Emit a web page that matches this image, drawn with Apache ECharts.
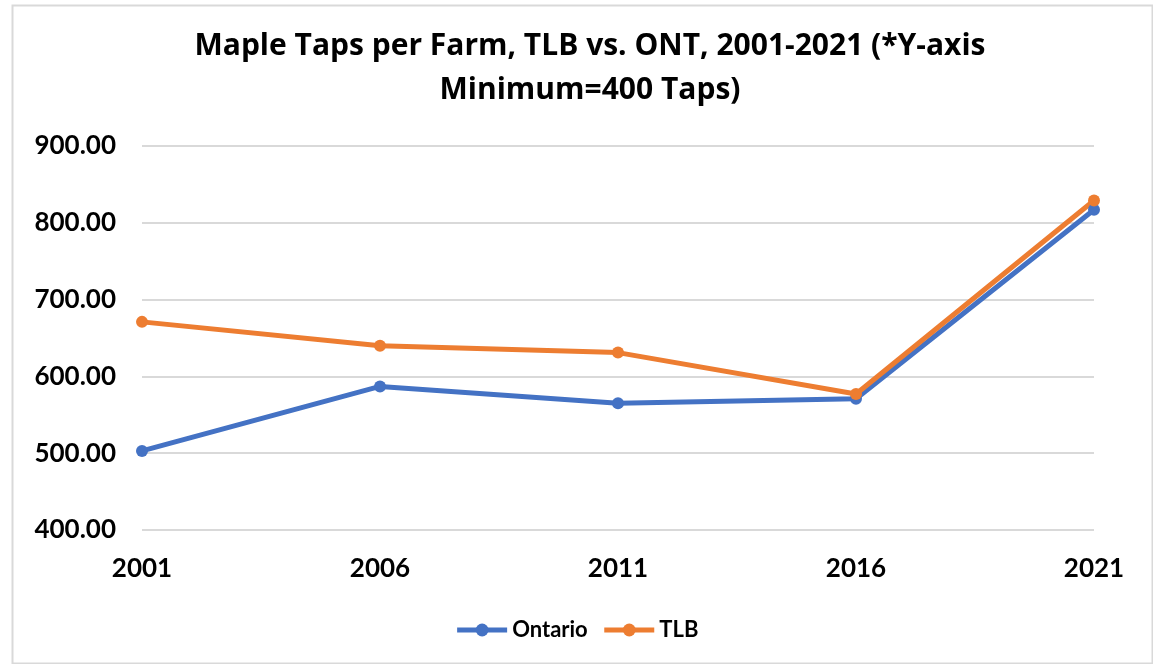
<!DOCTYPE html>
<html>
<head>
<meta charset="utf-8">
<script src="https://cdn.jsdelivr.net/npm/echarts@6/dist/echarts.min.js"></script>
<style>html,body{margin:0;padding:0;background:#fff}#c{width:1153px;height:664px}</style>
</head>
<body>
<div id="c"></div>
<script>
const categories = ['2001', '2006', '2011', '2016', '2021'];
const ontario = [503, 587, 565, 571, 817];
const tlb = [671, 640, 631, 577, 829];
const yTicks = { min: 400, max: 900, interval: 100 };

const FONT = 'Lato';
const chart = echarts.init(document.getElementById('c'));
chart.setOption({
  backgroundColor: '#fff',
  graphic: [{
    type: 'rect', left: 10, top: 3, z: -1,
    shape: { width: 1140, height: 658 },
    style: { fill: 'none', stroke: '#d9d9d9', lineWidth: 2 }
  }],
  title: {
    text: 'Maple Taps per Farm, TLB vs. ONT, 2001-2021 (*Y-axis\nMinimum=400 Taps)',
    left: 585, textAlign: 'center', top: 19,
    textStyle: { fontFamily: 'Open Sans', fontWeight: 'bold', fontSize: 30, lineHeight: 44, color: '#000' }
  },
  legend: {
    data: ['Ontario', 'TLB'],
    left: 'center', top: 614,
    itemWidth: 50, itemHeight: 16, itemGap: 14,
    lineStyle: { width: 5 },
    textStyle: { fontFamily: FONT, fontWeight: 'bold', fontSize: 22, color: '#000' }
  },
  grid: { left: 142, right: 59, top: 146, bottom: 134, containLabel: false },
  xAxis: {
    type: 'category', data: categories, boundaryGap: false,
    axisLine: { show: false }, axisTick: { show: false },
    axisLabel: { margin: 26, fontFamily: FONT, fontWeight: 'bold', fontSize: 26, color: '#000' }
  },
  yAxis: {
    type: 'value', min: yTicks.min, max: yTicks.max, interval: yTicks.interval,
    axisLine: { show: false }, axisTick: { show: false },
    splitLine: { lineStyle: { color: '#d9d9d9', width: 2 } },
    axisLabel: { margin: 26, fontFamily: FONT, fontWeight: 'bold', fontSize: 26, color: '#000',
      formatter: v => v.toFixed(2) }
  },
  series: [
    { name: 'Ontario', type: 'line', data: ontario, symbol: 'circle', symbolSize: 12,
      itemStyle: { color: '#4472C4' }, lineStyle: { color: '#4472C4', width: 5 } },
    { name: 'TLB', type: 'line', data: tlb, symbol: 'circle', symbolSize: 12,
      itemStyle: { color: '#ED7D31' }, lineStyle: { color: '#ED7D31', width: 5 } }
  ]
});
</script>
</body>
</html>
